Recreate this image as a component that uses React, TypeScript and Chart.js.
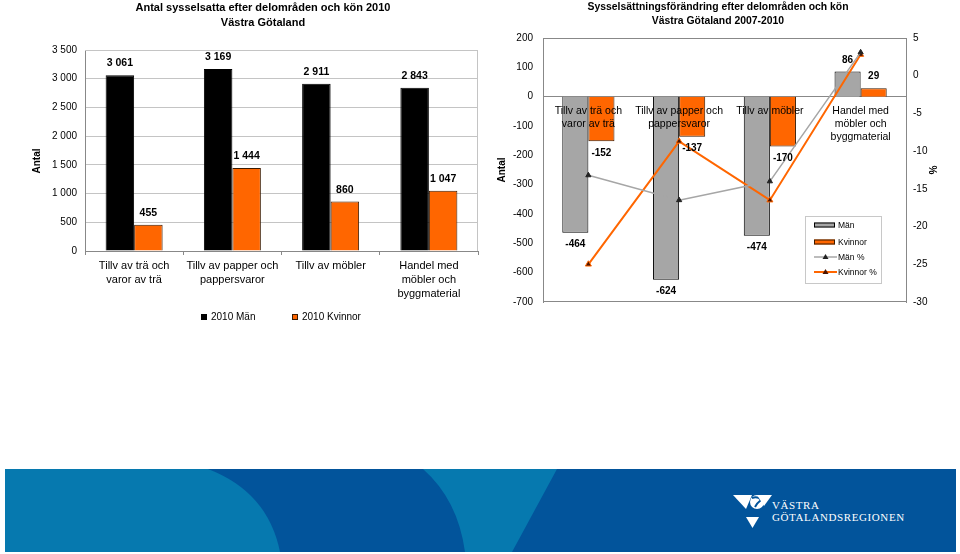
import React, { useEffect, useRef } from 'react';
import { Chart, registerables } from 'chart.js';

Chart.register(...registerables);

// ---------- DATA ----------
const leftCategories = [
  ['Tillv av trä och', 'varor av trä'],
  ['Tillv av papper och', 'pappersvaror'],
  ['Tillv av möbler'],
  ['Handel med', 'möbler och', 'byggmaterial'],
];
const men2010 = [3061, 3169, 2911, 2843];
const women2010 = [455, 1444, 860, 1047];

const rightCategories = [
  ['Tillv av trä och', 'varor av trä'],
  ['Tillv av papper och', 'pappersvaror'],
  ['Tillv av möbler'],
  ['Handel med', 'möbler och', 'byggmaterial'],
];
const menChange = [-464, -624, -474, 86];
const womenChange = [-152, -137, -170, 29];
const menPct = [-13.2, -16.5, -14.0, 3.1];
const womenPct = [-25.0, -8.7, -16.5, 2.8];

const leftTitle = ['Antal sysselsatta efter delområden och kön 2010', 'Västra Götaland'];
const rightTitle = ['Sysselsättningsförändring efter delområden och kön', 'Västra Götaland 2007-2010'];
const leftLegend = ['2010 Män', '2010 Kvinnor'];
const rightLegend = ['Män', 'Kvinnor', 'Män %', 'Kvinnor %'];

const FONT = '"Liberation Sans", Arial, sans-serif';
const ORANGE = '#FF6600';
const GREY = '#A6A6A6';

const fmt = (v: number) => {
  const s = Math.abs(v).toString().replace(/\B(?=(\d{3})+(?!\d))/g, ' ');
  return (v < 0 ? '-' : '') + s;
};

function valueLabelsPlugin(size: number, offset: number) {
  return {
    id: 'valueLabels',
    afterDatasetsDraw(chart: any) {
      const ctx = chart.ctx;
      ctx.save();
      ctx.font = `bold ${size}px ${FONT}`;
      ctx.fillStyle = '#000';
      ctx.textAlign = 'center';
      ctx.textBaseline = 'middle';
      chart.data.datasets.forEach((ds: any, i: number) => {
        if (ds.type === 'line') return;
        const meta = chart.getDatasetMeta(i);
        meta.data.forEach((bar: any, j: number) => {
          const v = ds.data[j];
          const y = v >= 0 ? bar.y - offset : bar.y + offset;
          ctx.fillText(fmt(v), bar.x, y);
        });
      });
      ctx.restore();
    },
  };
}

const leftDecor = {
  id: 'leftDecor',
  beforeDatasetsDraw(chart: any) {
    const { ctx, chartArea } = chart;
    ctx.save();
    ctx.strokeStyle = '#c4c4c4';
    ctx.lineWidth = 1;
    ctx.beginPath();
    ctx.moveTo(chartArea.left, chartArea.top + 0.5);
    ctx.lineTo(chartArea.right - 0.5, chartArea.top + 0.5);
    ctx.lineTo(chartArea.right - 0.5, chartArea.bottom);
    ctx.stroke();
    ctx.restore();
  },
  afterDraw(chart: any) {
    const { ctx } = chart;
    ctx.save();
    ctx.font = `bold 10px ${FONT}`;
    ctx.fillStyle = '#000';
    ctx.textAlign = 'center';
    ctx.textBaseline = 'middle';
    ctx.translate(37, 161);
    ctx.rotate(-Math.PI / 2);
    ctx.fillText('Antal', 0, 0);
    ctx.restore();
    ctx.save();
    ctx.font = `10px ${FONT}`;
    ctx.textBaseline = 'middle';
    ctx.textAlign = 'left';
    const items = [
      { x: 201, fill: '#000', stroke: '#000' },
      { x: 292, fill: ORANGE, stroke: '#3a1a00' },
    ];
    items.forEach((it, i) => {
      ctx.fillStyle = it.fill;
      ctx.fillRect(it.x, 314, 6, 6);
      ctx.strokeStyle = it.stroke;
      ctx.lineWidth = 1;
      ctx.strokeRect(it.x + 0.5, 314.5, 5, 5);
      ctx.fillStyle = '#000';
      ctx.fillText(leftLegend[i], it.x + 10, 317.5);
    });
    ctx.restore();
  },
};

const rightDecor = {
  id: 'rightDecor',
  afterDraw(chart: any) {
    const { ctx, chartArea } = chart;
    ctx.save();
    ctx.strokeStyle = '#888';
    ctx.lineWidth = 1;
    ctx.beginPath();
    ctx.moveTo(chartArea.left, chartArea.top + 0.5);
    ctx.lineTo(chartArea.right, chartArea.top + 0.5);
    ctx.moveTo(chartArea.left, chartArea.bottom - 0.5);
    ctx.lineTo(chartArea.right, chartArea.bottom - 0.5);
    ctx.stroke();

    const bx = 325, by = 216, bw = 76, bh = 67;
    ctx.fillStyle = '#fff';
    ctx.fillRect(bx, by, bw, bh);
    ctx.strokeStyle = '#c8c8c8';
    ctx.strokeRect(bx + 0.5, by + 0.5, bw, bh);
    ctx.font = `8.5px ${FONT}`;
    ctx.textBaseline = 'middle';
    ctx.textAlign = 'left';
    const rows = [225, 242, 257, 272];
    [[GREY, '#000'], [ORANGE, '#3a1a00']].forEach(([f, s], i) => {
      ctx.fillStyle = f;
      ctx.fillRect(334, rows[i] - 2.5, 21, 5);
      ctx.strokeStyle = s;
      ctx.strokeRect(334.5, rows[i] - 2, 20, 4);
    });
    [[GREY, '#222', 1.5], [ORANGE, '#4a1500', 2]].forEach(([c, m, w]: any, k) => {
      const y = rows[2 + k];
      ctx.strokeStyle = c;
      ctx.lineWidth = w;
      ctx.beginPath();
      ctx.moveTo(334, y);
      ctx.lineTo(357, y);
      ctx.stroke();
      ctx.fillStyle = m;
      ctx.beginPath();
      ctx.moveTo(345.5, y - 3);
      ctx.lineTo(348.5, y + 2);
      ctx.lineTo(342.5, y + 2);
      ctx.closePath();
      ctx.fill();
    });
    ctx.fillStyle = '#000';
    rightLegend.forEach((t, i) => ctx.fillText(t, 358, rows[i] + 0.5));
    ctx.restore();
  },
};

function LeftChart() {
  const ref = useRef<HTMLCanvasElement>(null);
  useEffect(() => {
    const chart = new Chart(ref.current as HTMLCanvasElement, {
      type: 'bar',
      data: {
        labels: leftCategories as any,
        datasets: [
          { label: leftLegend[0], data: men2010, backgroundColor: '#000', borderColor: '#000', borderWidth: 1 },
          { label: leftLegend[1], data: women2010, backgroundColor: ORANGE, borderColor: '#3a1a00', borderWidth: 1 },
        ],
      },
      options: {
        animation: false,
        responsive: false,
        maintainAspectRatio: false,
        layout: { padding: { top: 50, right: 2, left: 0, bottom: 0 } },
        datasets: { bar: { categoryPercentage: 0.58, barPercentage: 1 } },
        plugins: { legend: { display: false }, title: { display: false }, tooltip: { enabled: false } },
        scales: {
          x: {
            grid: { display: true, drawOnChartArea: false, drawTicks: true, tickLength: 4, color: '#888' },
            border: { color: '#888' },
            ticks: { padding: 4, color: '#000', maxRotation: 0, autoSkip: false, font: { size: 11, family: FONT, lineHeight: '14px' } },
            afterFit(s: any) { s.height = 89; },
          },
          y: {
            min: 0,
            max: 3500,
            ticks: { stepSize: 500, padding: 8, color: '#000', font: { size: 10, family: FONT }, callback: (v: any) => fmt(Number(v)) },
            grid: { color: '#c4c4c4', drawTicks: false },
            border: { color: '#888' },
            afterFit(s: any) { s.width = 85; },
          },
        },
      } as any,
      plugins: [leftDecor, valueLabelsPlugin(10.5, 12)],
    });
    return () => chart.destroy();
  }, []);
  return <canvas ref={ref} width={480} height={340} style={{ position: 'absolute', left: 0, top: 0, width: 480, height: 340 }} />;
}

function RightChart() {
  const ref = useRef<HTMLCanvasElement>(null);
  useEffect(() => {
    const chart = new Chart(ref.current as HTMLCanvasElement, {
      type: 'bar',
      data: {
        labels: rightCategories as any,
        datasets: [
          { label: rightLegend[0], data: menChange, backgroundColor: GREY, borderColor: '#000', borderWidth: 1, yAxisID: 'y', order: 2 },
          { label: rightLegend[1], data: womenChange, backgroundColor: ORANGE, borderColor: '#3a1a00', borderWidth: 1, yAxisID: 'y', order: 2 },
          {
            type: 'line', label: rightLegend[2], data: menPct, yAxisID: 'y1', order: 1,
            borderColor: GREY, borderWidth: 1.5, pointStyle: 'triangle', pointRadius: 3,
            pointBackgroundColor: '#222', pointBorderColor: '#222', pointBorderWidth: 1, tension: 0,
          },
          {
            type: 'line', label: rightLegend[3], data: womenPct, yAxisID: 'y1', order: 1,
            borderColor: ORANGE, borderWidth: 2, pointStyle: 'triangle', pointRadius: 3.5,
            pointBackgroundColor: '#4a1500', pointBorderColor: ORANGE, pointBorderWidth: 1, tension: 0,
          },
        ],
      } as any,
      options: {
        animation: false,
        responsive: false,
        maintainAspectRatio: false,
        layout: { padding: { top: 38, right: 0, left: 0, bottom: 38 } },
        datasets: { bar: { categoryPercentage: 0.575, barPercentage: 1 } },
        plugins: { legend: { display: false }, title: { display: false }, tooltip: { enabled: false } },
        scales: {
          x: {
            position: { y: 0 },
            grid: { display: false, drawTicks: false },
            border: { display: true, color: '#888' },
            ticks: { z: 1, padding: 8, color: '#000', maxRotation: 0, autoSkip: false, font: { size: 10.5, family: FONT, lineHeight: '12.8px' } },
          },
          y: {
            position: 'left',
            min: -700,
            max: 200,
            ticks: { stepSize: 100, padding: 10, color: '#000', font: { size: 10, family: FONT } },
            grid: { display: false, drawTicks: false },
            border: { color: '#888' },
            title: { display: true, text: 'Antal', color: '#000', font: { size: 10, weight: 'bold', family: FONT }, padding: { top: 16, bottom: 0 } },
            afterFit(s: any) { s.width = 63; },
          },
          y1: {
            position: 'right',
            min: -30,
            max: 5,
            ticks: { stepSize: 5, padding: 7, color: '#000', font: { size: 10, family: FONT } },
            grid: { display: false, drawTicks: false },
            border: { color: '#888' },
            title: { display: true, text: '%', color: '#000', font: { size: 10, weight: 'bold', family: FONT }, padding: { top: 22, bottom: 0 } },
            afterFit(s: any) { s.width = 54; },
          },
        },
      } as any,
      plugins: [valueLabelsPlugin(10, 11.5), rightDecor],
    });
    return () => chart.destroy();
  }, []);
  return <canvas ref={ref} width={480} height={340} style={{ position: 'absolute', left: 480, top: 0, width: 480, height: 340 }} />;
}

function Banner() {
  return (
    <svg width={960} height={554} style={{ position: 'absolute', left: 0, top: 0 }}>
      <rect x={5} y={469} width={951} height={83} fill="#02549B" />
      <path d="M5,469 L208,469 Q268,492 280,552 L5,552 Z" fill="#0679AF" />
      <path d="M423,469 L557,469 L512,552 L465,552 Q458,500 423,469 Z" fill="#0679AF" />
      <polygon points="733,495 752,495 746,509" fill="#fff" />
      <circle cx={757} cy={502} r={7} fill="#fff" />
      <path d="M752,498 Q758,496 761,500 Q757,503 755,507" stroke="#02549B" strokeWidth={2} fill="none" />
      <polygon points="757,495 772,495 764,506" fill="#fff" />
      <polygon points="746,517 759,517 752.5,528" fill="#fff" />
      <text x={772} y={509} fill="#fff" fontFamily='"Liberation Serif", serif' fontSize={11} letterSpacing={0.6}>VÄSTRA</text>
      <text x={772} y={521} fill="#fff" fontFamily='"Liberation Serif", serif' fontSize={11} letterSpacing={0.6}>GÖTALANDSREGIONEN</text>
    </svg>
  );
}

function Titles() {
  const base: React.CSSProperties = {
    position: 'absolute',
    fontFamily: FONT,
    fontWeight: 'bold',
    color: '#000',
    textAlign: 'center',
    whiteSpace: 'nowrap',
  };
  return (
    <>
      <div style={{ ...base, left: 63, top: 0, width: 400, fontSize: 11, lineHeight: '14.6px' }}>
        {leftTitle.map((t) => <div key={t}>{t}</div>)}
      </div>
      <div style={{ ...base, left: 518, top: 0, width: 400, fontSize: 10.4, lineHeight: '13.5px' }}>
        {rightTitle.map((t) => <div key={t}>{t}</div>)}
      </div>
    </>
  );
}

export default function App() {
  return (
    <div style={{ position: 'absolute', left: 0, top: 0, width: 960, height: 554, background: '#fff', overflow: 'hidden' }}>
      <LeftChart />
      <RightChart />
      <Titles />
      <Banner />
    </div>
  );
}
